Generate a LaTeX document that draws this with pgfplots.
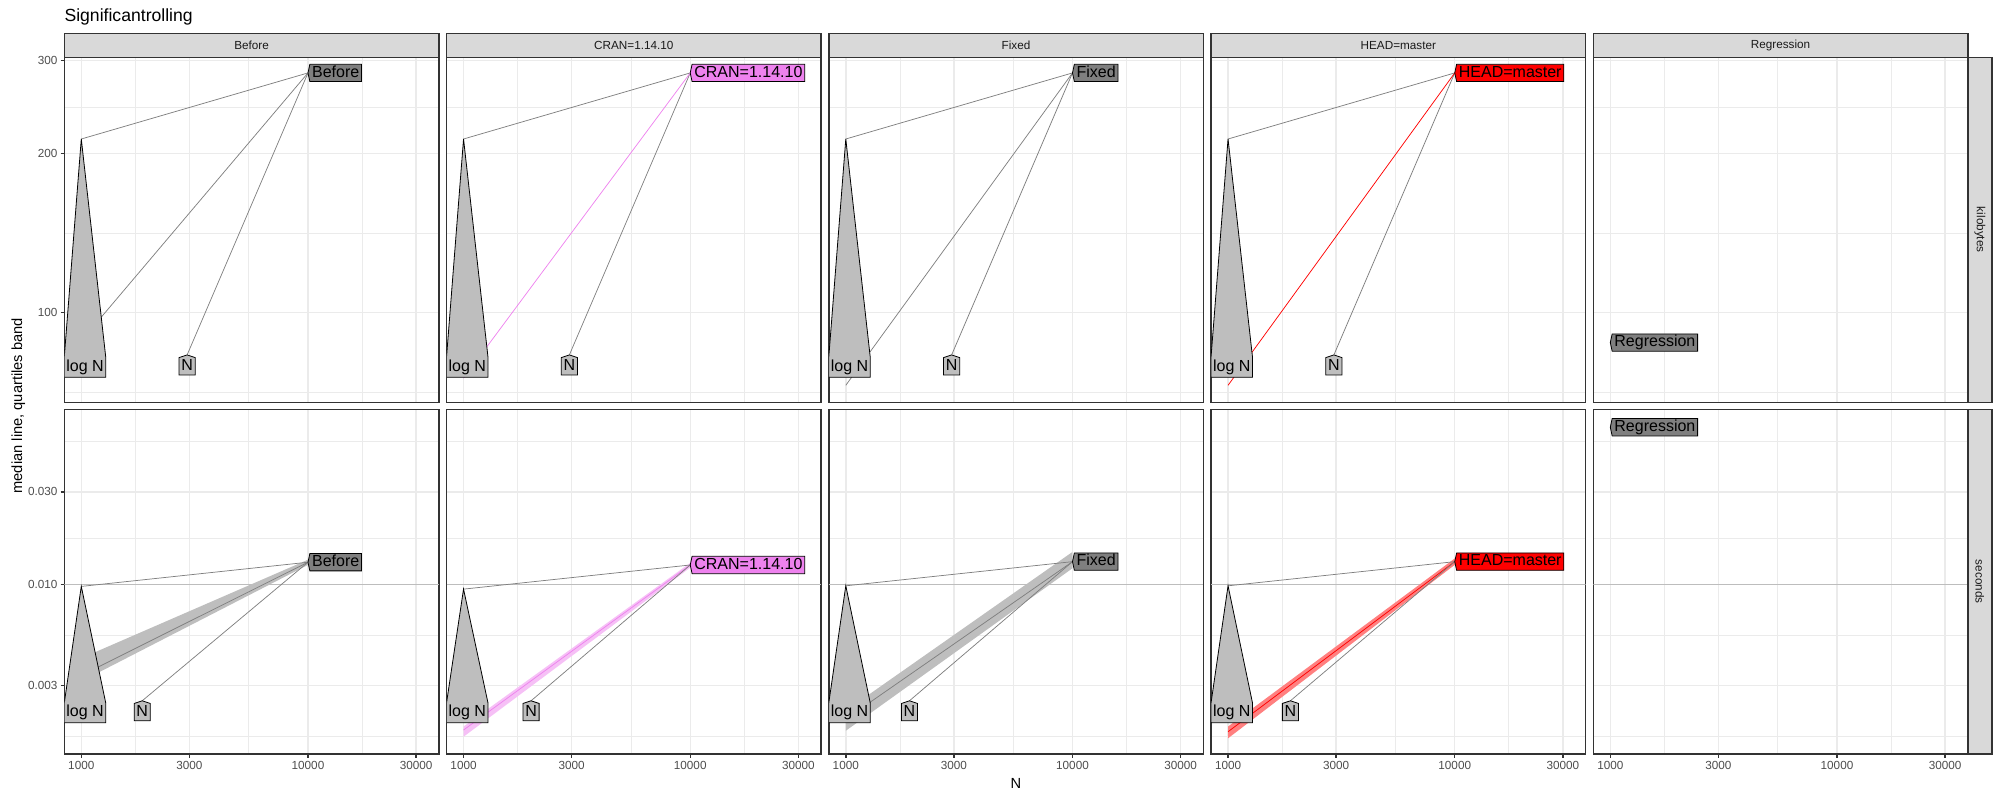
\documentclass[border=0pt]{standalone}
\usepackage{pgfplots}
\pgfplotsset{compat=1.18}
\usepackage{fontspec}
\setmainfont{Liberation Sans}
\definecolor{grey20}{HTML}{333333}
\definecolor{grey30}{HTML}{4D4D4D}
\definecolor{grey10}{HTML}{1A1A1A}
\definecolor{grey92}{HTML}{EBEBEB}
\definecolor{grey85}{HTML}{D9D9D9}
\definecolor{grey50}{HTML}{7F7F7F}
\definecolor{lgrey}{HTML}{BEBEBE}
\definecolor{cranv}{HTML}{EE82EE}
\definecolor{cranband}{HTML}{F6C0F6}
\definecolor{headband}{HTML}{FF8080}
\definecolor{hlinec}{HTML}{BDBDBD}

\tikzset{
  lab/.style={font=\fontsize{12}{14}\selectfont, inner xsep=1.5pt, inner ysep=0.7pt, text height=8.7pt, text depth=2.5pt},
  refl/.style={draw=grey50, line width=0.55pt},
}
\newcommand{\leftlab}[4]{%
  \node[lab, anchor=west] (L) at ([xshift=1.4pt]axis cs:#1,#2) {\phantom{#4}};
  \path[draw=black, line width=0.6pt, fill=#3] (L.north west) -- (L.north east) -- (L.south east) -- (L.south west) -- ([xshift=-1.4pt]L.west) -- cycle;
  \node[lab] at (L.center) {#4};
}
\newcommand{\uplab}[3]{%
  \node[lab, anchor=north] (L) at ([yshift=-2pt]axis cs:#1,#2) {\phantom{#3}};
  \path[draw=black, line width=0.6pt, fill=lgrey] (L.south west) -- (L.north west) -- ([yshift=2pt]L.north) -- (L.north east) -- (L.south east) -- cycle;
  \node[lab] at (L.center) {#3};
}
\newcommand{\logN}[5]{%
  \path[draw=black, line width=0.6pt, fill=lgrey] (axis description cs:0,#3) -- (axis description cs:0.1105,#3) -- (axis description cs:0.1105,#4) -- (axis cs:#1,#2) -- (axis description cs:0,#4) -- cycle;
  \node[lab, anchor=center] at (axis description cs:0.0553,#5) {log N};
}

\pgfplotsset{
  every axis/.append style={scale only axis, width=280.875pt,
    grid=both,
    major grid style={draw=grey92, line width=1.07pt},
    minor grid style={draw=grey92, line width=0.53pt},
    axis line style={draw=grey20, line width=1.07pt},
    tick align=outside,
    major tick length=2.75pt, minor tick length=0pt,
    xticklabel style={font=\fontsize{8.8}{10}\selectfont, text=grey30, inner sep=0pt, anchor=north, yshift=-2.2pt},
    yticklabel style={font=\fontsize{8.8}{10}\selectfont, text=grey30, inner sep=0pt, anchor=east, xshift=-2.2pt},
  },
}

\begin{document}
\begin{tikzpicture}[x=1pt,y=1pt]
\useasboundingbox (0,0) rectangle (1500,-600);

% ---------------- top row: kilobytes ----------------
\begin{axis}[anchor=north west, at={(48.225pt,-42.975pt)}, xmode=log, ymode=log, xmin=841.6, xmax=37770,
  height=258.75pt, ymin=67.7, ymax=304.0,
  xtick={1000,3000,10000,30000}, minor xtick={1732,5477,17321}, xticklabels={},
  ytick={100,200,300}, minor ytick={70.71,141.42,244.95}, yticklabels={100,200,300},
  xtick pos=left, ytick pos=left, xtick style={draw=none}, ytick style={draw=grey20, line width=1.07pt}]
  \addplot[refl] coordinates {(1000,213) (10000,284)};
  \addplot[refl] coordinates {(2930,83.2) (10000,284)};
  \addplot[draw=grey50, line width=0.55pt] coordinates {(1000,88.5) (10000,284)};
  \logN{1000}{213}{0.0725}{0.1322}{0.1024}
  \uplab{2930}{83.2}{N}
  \leftlab{10000}{284}{grey50}{Before}
\end{axis}

\begin{axis}[anchor=north west, at={(334.9125pt,-42.975pt)}, xmode=log, ymode=log, xmin=841.6, xmax=37770,
  height=258.75pt, ymin=67.7, ymax=304.0,
  xtick={1000,3000,10000,30000}, minor xtick={1732,5477,17321}, xticklabels={},
  ytick={100,200,300}, minor ytick={70.71,141.42,244.95}, yticklabels={},
  xtick pos=left, ytick pos=left, xtick style={draw=none}, ytick style={draw=none}]
  \addplot[refl] coordinates {(1000,213) (10000,284)};
  \addplot[refl] coordinates {(2930,83.2) (10000,284)};
  \addplot[draw=cranv, line width=0.55pt] coordinates {(1000,75.2) (10000,284)};
  \logN{1000}{213}{0.0725}{0.1322}{0.1024}
  \uplab{2930}{83.2}{N}
  \leftlab{10000}{284}{cranv}{CRAN=1.14.10}
\end{axis}

\begin{axis}[anchor=north west, at={(621.6pt,-42.975pt)}, xmode=log, ymode=log, xmin=841.6, xmax=37770,
  height=258.75pt, ymin=67.7, ymax=304.0,
  xtick={1000,3000,10000,30000}, minor xtick={1732,5477,17321}, xticklabels={},
  ytick={100,200,300}, minor ytick={70.71,141.42,244.95}, yticklabels={},
  xtick pos=left, ytick pos=left, xtick style={draw=none}, ytick style={draw=none}]
  \addplot[refl] coordinates {(1000,213) (10000,284)};
  \addplot[refl] coordinates {(2930,83.2) (10000,284)};
  \addplot[draw=grey50, line width=0.55pt] coordinates {(1000,72.9) (10000,284)};
  \logN{1000}{213}{0.0725}{0.1322}{0.1024}
  \uplab{2930}{83.2}{N}
  \leftlab{10000}{284}{grey50}{Fixed}
\end{axis}

\begin{axis}[anchor=north west, at={(908.2875pt,-42.975pt)}, xmode=log, ymode=log, xmin=841.6, xmax=37770,
  height=258.75pt, ymin=67.7, ymax=304.0,
  xtick={1000,3000,10000,30000}, minor xtick={1732,5477,17321}, xticklabels={},
  ytick={100,200,300}, minor ytick={70.71,141.42,244.95}, yticklabels={},
  xtick pos=left, ytick pos=left, xtick style={draw=none}, ytick style={draw=none}]
  \addplot[refl] coordinates {(1000,213) (10000,284)};
  \addplot[refl] coordinates {(2930,83.2) (10000,284)};
  \addplot[draw=red, line width=0.55pt] coordinates {(1000,72.9) (10000,284)};
  \logN{1000}{213}{0.0725}{0.1322}{0.1024}
  \uplab{2930}{83.2}{N}
  \leftlab{10000}{284}{red}{HEAD=master}
\end{axis}

\begin{axis}[anchor=north west, at={(1194.975pt,-42.975pt)}, xmode=log, ymode=log, xmin=841.6, xmax=37770,
  height=258.75pt, ymin=67.7, ymax=304.0,
  xtick={1000,3000,10000,30000}, minor xtick={1732,5477,17321}, xticklabels={},
  ytick={100,200,300}, minor ytick={70.71,141.42,244.95}, yticklabels={},
  xtick pos=left, ytick pos=left, xtick style={draw=none}, ytick style={draw=none}]
  \addplot[draw=none] coordinates {(1000,87.8)};
  \leftlab{1000}{87.8}{grey50}{Regression}
\end{axis}

% ---------------- bottom row: seconds ----------------
\begin{axis}[anchor=north west, at={(48.225pt,-306.975pt)}, xmode=log, ymode=log, xmin=841.6, xmax=37770,
  height=258.525pt, ymin=0.001327, ymax=0.0802,
  xtick={1000,3000,10000,30000}, minor xtick={1732,5477,17321}, xticklabels={1000,3000,10000,30000},
  ytick={0.003,0.01,0.03}, minor ytick={0.001643,0.005477,0.01732,0.05477}, yticklabels={0.003,0.010,0.030},
  xtick pos=left, ytick pos=left, xtick style={draw=grey20, line width=1.07pt}, ytick style={draw=grey20, line width=1.07pt}]
  \addplot[draw=hlinec, line width=0.6pt] coordinates {(841.6,0.01) (37770,0.01)};
  \addplot[fill=lgrey, draw=none] coordinates {(1000,0.00415) (10000,0.0134) (10000,0.0126) (1000,0.00315)} -- cycle;
  \addplot[draw=grey50, line width=0.55pt] coordinates {(1000,0.00338) (10000,0.0130)};
  \addplot[refl] coordinates {(1000,0.00975) (10000,0.0130)};
  \addplot[refl] coordinates {(1857,0.0025) (10000,0.0130)};
  \logN{1000}{0.00975}{0.0908}{0.1488}{0.1198}
  \uplab{1857}{0.0025}{N}
  \leftlab{10000}{0.0130}{grey50}{Before}
\end{axis}

\begin{axis}[anchor=north west, at={(334.9125pt,-306.975pt)}, xmode=log, ymode=log, xmin=841.6, xmax=37770,
  height=258.525pt, ymin=0.001327, ymax=0.0802,
  xtick={1000,3000,10000,30000}, minor xtick={1732,5477,17321}, xticklabels={1000,3000,10000,30000},
  ytick={0.003,0.01,0.03}, minor ytick={0.001643,0.005477,0.01732,0.05477}, yticklabels={},
  xtick pos=left, ytick pos=left, xtick style={draw=grey20, line width=1.07pt}, ytick style={draw=none}]
  \addplot[draw=hlinec, line width=0.6pt] coordinates {(841.6,0.01) (37770,0.01)};
  \addplot[fill=cranband, draw=none] coordinates {(1000,0.00184) (10000,0.0129) (10000,0.0122) (1000,0.00163)} -- cycle;
  \addplot[draw=cranv, line width=0.55pt] coordinates {(1000,0.001766) (10000,0.01258)};
  \addplot[refl] coordinates {(1000,0.00944) (10000,0.01258)};
  \addplot[refl] coordinates {(1986,0.0025) (10000,0.01258)};
  \logN{1000}{0.00944}{0.0908}{0.1488}{0.1198}
  \uplab{1986}{0.0025}{N}
  \leftlab{10000}{0.01258}{cranv}{CRAN=1.14.10}
\end{axis}

\begin{axis}[anchor=north west, at={(621.6pt,-306.975pt)}, xmode=log, ymode=log, xmin=841.6, xmax=37770,
  height=258.525pt, ymin=0.001327, ymax=0.0802,
  xtick={1000,3000,10000,30000}, minor xtick={1732,5477,17321}, xticklabels={1000,3000,10000,30000},
  ytick={0.003,0.01,0.03}, minor ytick={0.001643,0.005477,0.01732,0.05477}, yticklabels={},
  xtick pos=left, ytick pos=left, xtick style={draw=grey20, line width=1.07pt}, ytick style={draw=none}]
  \addplot[draw=hlinec, line width=0.6pt] coordinates {(841.6,0.01) (37770,0.01)};
  \addplot[fill=lgrey, draw=none] coordinates {(1000,0.00222) (10000,0.0147) (10000,0.0121) (1000,0.00175)} -- cycle;
  \addplot[draw=grey50, line width=0.55pt] coordinates {(1000,0.00201) (10000,0.01309)};
  \addplot[refl] coordinates {(1000,0.00982) (10000,0.01309)};
  \addplot[refl] coordinates {(1909,0.0025) (10000,0.01309)};
  \logN{1000}{0.00982}{0.0908}{0.1488}{0.1198}
  \uplab{1909}{0.0025}{N}
  \leftlab{10000}{0.01309}{grey50}{Fixed}
\end{axis}

\begin{axis}[anchor=north west, at={(908.2875pt,-306.975pt)}, xmode=log, ymode=log, xmin=841.6, xmax=37770,
  height=258.525pt, ymin=0.001327, ymax=0.0802,
  xtick={1000,3000,10000,30000}, minor xtick={1732,5477,17321}, xticklabels={1000,3000,10000,30000},
  ytick={0.003,0.01,0.03}, minor ytick={0.001643,0.005477,0.01732,0.05477}, yticklabels={},
  xtick pos=left, ytick pos=left, xtick style={draw=grey20, line width=1.07pt}, ytick style={draw=none}]
  \addplot[draw=hlinec, line width=0.6pt] coordinates {(841.6,0.01) (37770,0.01)};
  \addplot[fill=headband, draw=none] coordinates {(1000,0.00184) (10000,0.0136) (10000,0.0126) (1000,0.0016)} -- cycle;
  \addplot[draw=red, line width=0.55pt] coordinates {(1000,0.00173) (10000,0.01309)};
  \addplot[refl] coordinates {(1000,0.00982) (10000,0.01309)};
  \addplot[refl] coordinates {(1884,0.0025) (10000,0.01309)};
  \logN{1000}{0.00982}{0.0908}{0.1488}{0.1198}
  \uplab{1884}{0.0025}{N}
  \leftlab{10000}{0.01309}{red}{HEAD=master}
\end{axis}

\begin{axis}[anchor=north west, at={(1194.975pt,-306.975pt)}, xmode=log, ymode=log, xmin=841.6, xmax=37770,
  height=258.525pt, ymin=0.001327, ymax=0.0802,
  xtick={1000,3000,10000,30000}, minor xtick={1732,5477,17321}, xticklabels={1000,3000,10000,30000},
  ytick={0.003,0.01,0.03}, minor ytick={0.001643,0.005477,0.01732,0.05477}, yticklabels={},
  xtick pos=left, ytick pos=left, xtick style={draw=grey20, line width=1.07pt}, ytick style={draw=none}]
  \addplot[draw=hlinec, line width=0.6pt] coordinates {(841.6,0.01) (37770,0.01)};
  \leftlab{1000}{0.0648}{grey50}{Regression}
\end{axis}

% ---------------- strips ----------------
\tikzset{strip/.style={fill=grey85, draw=grey20, line width=1.07pt}, striptext/.style={font=\fontsize{8.8}{10}\selectfont, text=grey10}}
\draw[strip] (48.225,-24.975) rectangle (329.1,-42.975);
\node[striptext] at (188.6625,-33.975) {Before};
\draw[strip] (334.9125,-24.975) rectangle (615.7875,-42.975);
\node[striptext] at (475.35,-33.975) {CRAN=1.14.10};
\draw[strip] (621.6,-24.975) rectangle (902.475,-42.975);
\node[striptext] at (762.0375,-33.975) {Fixed};
\draw[strip] (908.2875,-24.975) rectangle (1189.1625,-42.975);
\node[striptext] at (1048.725,-33.975) {HEAD=master};
\draw[strip] (1194.975,-24.975) rectangle (1475.85,-42.975);
\node[striptext] at (1335.4125,-33.975) {Regression};
\draw[strip] (1475.85,-42.975) rectangle (1494,-301.725);
\node[striptext, rotate=-90] at (1484.925,-172.35) {kilobytes};
\draw[strip] (1475.85,-306.975) rectangle (1494,-565.5);
\node[striptext, rotate=-90] at (1484.925,-436.2375) {seconds};

% ---------------- titles ----------------
\node[anchor=base west, inner sep=0pt, font=\fontsize{13.2}{15}\selectfont] at (48.225,-16.35) {Significantrolling};
\node[rotate=90, anchor=base, inner sep=0pt, font=\fontsize{11}{13}\selectfont] at (16.5,-304.3) {median line, quartiles band};
\node[anchor=base, inner sep=0pt, font=\fontsize{11}{13}\selectfont] at (762,-591) {N};
\end{tikzpicture}
\end{document}
